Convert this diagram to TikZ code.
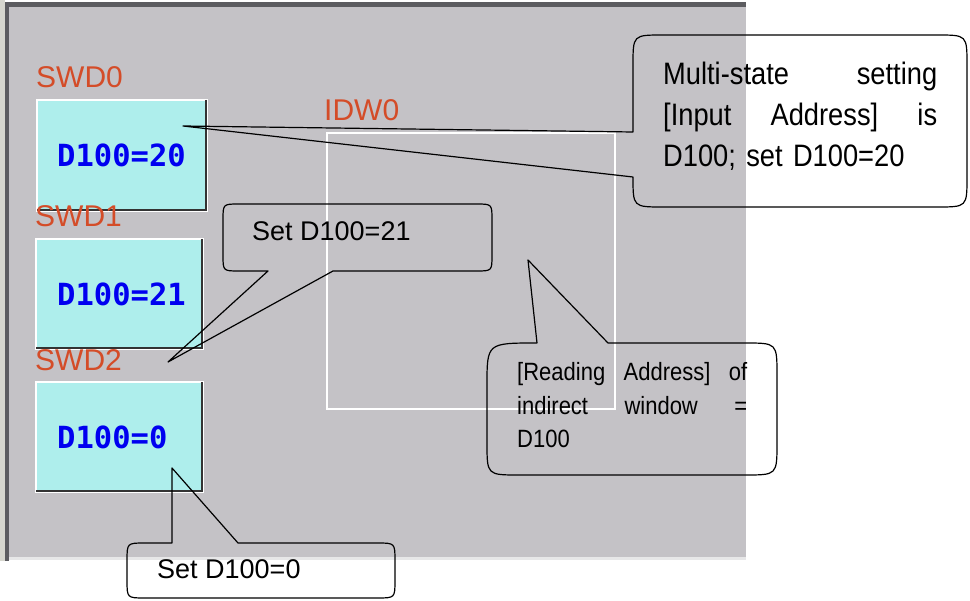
\documentclass[tikz,border=0pt]{standalone}
\usepackage{fontspec}
\setmainfont{Liberation Sans}
\newfontfamily\narrowfont[FakeStretch=0.88]{Liberation Sans}
\newfontfamily\pixfont{DejaVu Sans Mono}
\usepackage{xcolor}
\usepackage{tikz}
\usetikzlibrary{positioning,calc}
\setlength{\parindent}{0pt}
\definecolor{scrgray}{RGB}{196,194,198}
\definecolor{sidegray}{RGB}{214,214,206}
\definecolor{edgegray}{RGB}{92,92,96}
\definecolor{boxcyan}{RGB}{174,238,236}
\definecolor{lblred}{RGB}{212,76,40}
\definecolor{valblue}{RGB}{0,0,240}

\begin{document}
\begin{tikzpicture}[x=1pt,y=-1pt,
  swbox/.style={draw=white,line width=2pt,fill=boxcyan,minimum width=167pt,minimum height=110pt,inner sep=0pt},
  ombra/.style={draw=black!80,line width=2pt},
  swval/.style={font=\pixfont\bfseries\fontsize{30.5}{32}\selectfont,text=valblue,inner sep=0pt},
  lbl/.style={font=\fontsize{30}{34}\selectfont,text=lblred,inner sep=0pt,anchor=base west},
  fumetto/.style={draw=black,line width=1.2pt,line join=round},
  callt/.style={inner sep=0pt,anchor=base west}]
  \useasboundingbox (0,0) rectangle (970,601);
  \fill[white] (0,0) rectangle (970,601);
  % schermo
  \fill[sidegray] (0,0) rectangle (5,561);
  \fill[scrgray] (5,3) rectangle (746,560);
  \fill[edgegray] (5,2) rectangle (9,561);
  \fill[edgegray] (5,2) rectangle (746,7);
  \fill[white!60!scrgray] (9,557) rectangle (746,560);
  % pulsanti multistato
  \node[swbox,minimum width=170pt,minimum height=111pt] (swd0) at (122,155.5) {};
  \node[swbox] (swd1) at (119.5,294) {};
  \node[swbox] (swd2) at (119.5,437.5) {};
  \foreach \b in {swd0,swd1,swd2}
    \draw[ombra] ([xshift=-2pt,yshift=-1pt]\b.north east) |- ([xshift=1pt,yshift=2pt]\b.south west);
  \node[swval,right=21pt of swd0.west] (v0) {D100=20};
  \node[swval,right=22pt of swd1.west] (v1) {D100=21};
  \node[swval,right=22pt of swd2.west] (v2) {D100=0};
  \node[lbl] (l0) at (36,88) {SWD0};
  \node[lbl] (l1) at (35,227) {SWD1};
  \node[lbl] (l2) at (35,371) {SWD2};
  % finestra indiretta
  \node[draw=white,line width=1.5pt,minimum width=288pt,minimum height=276pt,inner sep=0pt] (idw0) at (471,271) {};
  \node[lbl] (l3) at (324,121) {IDW0};
  % punte dei fumetti
  \coordinate (p0) at (183,126);
  \coordinate (p1) at (168,362);
  \coordinate (p2) at (528,260);
  \coordinate (p3) at (172,468);
  % fumetti
  \draw[fumetto] (633,132) -- (p0) -- (633,177) .. controls (633,207) .. (663,207) -- (937,207)
    .. controls (967,207) .. (967,177) -- (967,65) .. controls (967,35) .. (937,35) -- (663,35)
    .. controls (633,35) .. (633,65) -- cycle;
  \draw[fumetto] (268,271) -- (p1) -- (333,271) -- (476,271) .. controls (492,271) .. (492,255)
    -- (492,220) .. controls (492,204) .. (476,204) -- (239,204) .. controls (223,204) .. (223,220)
    -- (223,255) .. controls (223,271) .. (239,271) -- cycle;
  \draw[fumetto] (537,343) -- (p2) -- (608,343) -- (745,343) .. controls (777,343) .. (777,375)
    -- (777,443) .. controls (777,475) .. (745,475) -- (519,475) .. controls (487,475) .. (487,443)
    -- (487,385) .. controls (487,343) .. (537,343) -- cycle;
  \draw[fumetto] (172,543) -- (p3) -- (238,543) -- (377,543) .. controls (395,543) .. (395,561)
    -- (395,580) .. controls (395,598) .. (377,598) -- (145,598) .. controls (127,598) .. (127,580)
    -- (127,561) .. controls (127,543) .. (145,543) -- cycle;
  % testi
  \node[callt,font=\narrowfont\fontsize{31}{41}\selectfont,text width=274pt] (t0) at (663,85)
    {Multi-state\hfill setting\\\relax [Input\hfill Address]\hfill is\\ D100; set D100=20};
  \node[callt,font=\fontsize{27}{32}\selectfont] (t1) at (252,241) {Set D100=21};
  \node[callt,font=\narrowfont\fontsize{25}{33.5}\selectfont,text width=230pt] (t2) at (517,381)
    {[Reading\hfill Address]\hfill of\\ indirect\hfill window\hfill =\\ D100};
  \node[callt,font=\fontsize{27}{32}\selectfont] (t3) at (157,579) {Set D100=0};
\end{tikzpicture}
\end{document}
